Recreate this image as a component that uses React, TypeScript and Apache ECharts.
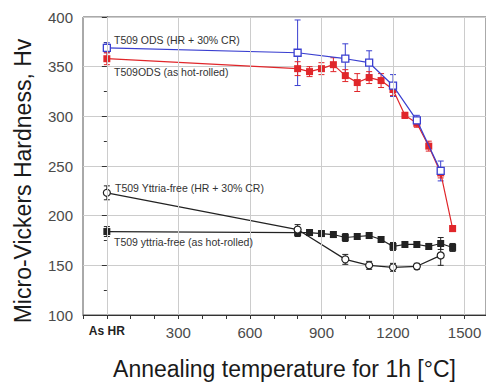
import React, { useEffect, useRef } from "react";
import * as echarts from "echarts";

// Annealing temperatures (0 = "As HR")
const xOdsCR = [0, 800, 1000, 1100, 1200, 1300, 1400];
const yOdsCR = [369, 364, 358, 354, 331, 296, 245];
const eOdsCR = [5, 33, 15, 12, 11, 5, 10];

const xOdsHR = [0, 800, 850, 900, 950, 1000, 1050, 1100, 1150, 1200, 1250, 1300, 1350, 1400, 1450];
const yOdsHR = [358, 348, 345, 348, 352, 341, 334, 339, 336, 327, 301, 293, 270, 243, 187];
const eOdsHR = [6, 7, 5, 6, 7, 6, 9, 6, 7, 6, 3, 4, 5, 5, 3];

const xYfCR = [0, 800, 1000, 1100, 1200, 1300, 1400];
const yYfCR = [223, 186, 156, 150, 148, 149, 160];
const eYfCR = [7, 5, 5, 4, 4, 3, 10];

const xYfHR = [0, 800, 850, 900, 950, 1000, 1050, 1100, 1150, 1200, 1250, 1300, 1350, 1400, 1450];
const yYfHR = [184, 183, 183, 182, 181, 178, 179, 180, 176, 169, 171, 171, 169, 172, 168];
const eYfHR = [5, 4, 3, 3, 3, 4, 3, 3, 3, 4, 3, 3, 3, 6, 4];

const xGridLines = [0, 300, 600, 900, 1200, 1500];

const labels = {
  odsCR: "T509 ODS (HR + 30% CR)",
  odsHR: "T509ODS (as hot-rolled)",
  yfCR: "T509 Yttria-free (HR + 30% CR)",
  yfHR: "T509 yttria-free (as hot-rolled)",
};
const xTitle = "Annealing temperature for 1h [°C]";
const yTitle = "Micro-Vickers Hardness, Hv";

const FONT = "'Liberation Sans', Arial, sans-serif";

function zip(xs: number[], ys: number[]) {
  return xs.map((x, i) => [x, ys[i]]);
}
function errData(xs: number[], ys: number[], es: number[]) {
  return xs.map((x, i) => [x, ys[i] - es[i], ys[i] + es[i]]);
}

function errorSeries(data: number[][], color: string) {
  return {
    type: "custom",
    silent: true,
    z: 1,
    data,
    renderItem: (params: any, api: any) => {
      const x = api.value(0);
      const lo = api.coord([x, api.value(1)]);
      const hi = api.coord([x, api.value(2)]);
      const w = 3;
      const style = { stroke: color, lineWidth: 1 };
      return {
        type: "group",
        children: [
          { type: "line", shape: { x1: lo[0], y1: lo[1], x2: hi[0], y2: hi[1] }, style },
          { type: "line", shape: { x1: lo[0] - w, y1: lo[1], x2: lo[0] + w, y2: lo[1] }, style },
          { type: "line", shape: { x1: hi[0] - w, y1: hi[1], x2: hi[0] + w, y2: hi[1] }, style },
        ],
      };
    },
  };
}

export default function App() {
  const ref = useRef<HTMLDivElement>(null);
  useEffect(() => {
    if (!ref.current) return;
    const chart = echarts.init(ref.current, undefined, { renderer: "svg" });
    const blue = "#3a3fd0";
    const red = "#e0262a";
    const black = "#222222";
    const gray = "#4a4a4a";
    chart.setOption({
      animation: false,
      backgroundColor: "#ffffff",
      textStyle: { fontFamily: FONT },
      grid: {
        left: 83,
        top: 17,
        right: 0,
        bottom: 68,
        outerBoundsMode: "none",
        containLabel: false,
        show: true,
        borderColor: "#555",
        borderWidth: 1,
        backgroundColor: "transparent",
      },
      xAxis: {
        type: "value",
        min: -100,
        max: 1590,
        interval: 100,
        axisLine: { show: true, lineStyle: { color: "#333", width: 1 } },
        axisTick: { show: true, length: 4, lineStyle: { color: "#333" } },
        splitLine: { show: false },
        axisLabel: {
          color: gray,
          fontSize: 15,
          fontFamily: FONT,
          margin: 10,
          formatter: (v: number) => {
            if (v === 0) return "{b|As HR}";
            if (v > 0 && v % 300 === 0) return String(v);
            return "";
          },
          rich: { b: { fontWeight: "bold", fontSize: 12, color: "#222", fontFamily: FONT } },
        },
        name: xTitle,
        nameLocation: "middle",
        nameGap: 42,
        nameTextStyle: { fontSize: 23, color: "#1a1a1a", fontFamily: FONT },
      },
      yAxis: {
        type: "value",
        min: 100,
        max: 400,
        interval: 50,
        axisLine: { show: true, lineStyle: { color: "#333", width: 1 } },
        axisTick: { show: true, length: 5, lineStyle: { color: "#333" } },
        minorTick: { show: true, splitNumber: 2, length: 3, lineStyle: { color: "#333" } },
        splitLine: { show: true, lineStyle: { color: "#cccccc", width: 1 } },
        axisLabel: { color: gray, fontSize: 15, fontFamily: FONT, margin: 10 },
      },
      series: [
        {
          type: "line",
          data: [],
          silent: true,
          markLine: {
            silent: true,
            symbol: "none",
            label: { show: false },
            lineStyle: { color: "#cccccc", width: 1, type: "solid" },
            data: xGridLines.map((v) => ({ xAxis: v })),
          },
          z: 0,
        },
        errorSeries(errData(xOdsCR, yOdsCR, eOdsCR), blue),
        errorSeries(errData(xOdsHR, yOdsHR, eOdsHR), red),
        errorSeries(errData(xYfCR, yYfCR, eYfCR), black),
        errorSeries(errData(xYfHR, yYfHR, eYfHR), black),
        {
          name: labels.odsHR,
          type: "line",
          data: zip(xOdsHR, yOdsHR),
          symbol: "rect",
          symbolSize: 7,
          lineStyle: { color: red, width: 1.2 },
          itemStyle: { color: red, borderColor: red, borderWidth: 0 },
          z: 3,
        },
        {
          name: labels.odsCR,
          type: "line",
          data: zip(xOdsCR, yOdsCR),
          symbol: "rect",
          symbolSize: 7,
          lineStyle: { color: blue, width: 1.2 },
          itemStyle: { color: "#ffffff", borderColor: blue, borderWidth: 1.3 },
          z: 4,
        },
        {
          name: labels.yfHR,
          type: "line",
          data: zip(xYfHR, yYfHR),
          symbol: "rect",
          symbolSize: 7,
          lineStyle: { color: black, width: 1.2 },
          itemStyle: { color: black, borderColor: black, borderWidth: 0 },
          z: 3,
        },
        {
          name: labels.yfCR,
          type: "line",
          data: zip(xYfCR, yYfCR),
          symbol: "circle",
          symbolSize: 7,
          lineStyle: { color: black, width: 1.2 },
          itemStyle: { color: "#ffffff", borderColor: black, borderWidth: 1.2 },
          z: 4,
        },
      ],
      graphic: [
        {
          type: "text",
          x: 23,
          y: 181,
          rotation: Math.PI / 2,
          style: { text: yTitle, fontSize: 23, fill: "#1a1a1a", fontFamily: FONT, align: "center", verticalAlign: "middle" },
        },
        { type: "text", left: 114, top: 34, z: 10, style: { text: labels.odsCR, fontSize: 10.5, fill: "#333", fontFamily: FONT } },
        { type: "text", left: 114, top: 66, z: 10, style: { text: labels.odsHR, fontSize: 10.5, fill: "#333", fontFamily: FONT } },
        { type: "text", left: 115, top: 182, z: 10, style: { text: labels.yfCR, fontSize: 10.5, fill: "#333", fontFamily: FONT } },
        { type: "text", left: 114, top: 236, z: 10, style: { text: labels.yfHR, fontSize: 10.5, fill: "#333", fontFamily: FONT } },
      ],
    });
    return () => chart.dispose();
  }, []);
  return <div ref={ref} style={{ width: 486, height: 383, position: "absolute", left: 0, top: 0 }} />;
}
